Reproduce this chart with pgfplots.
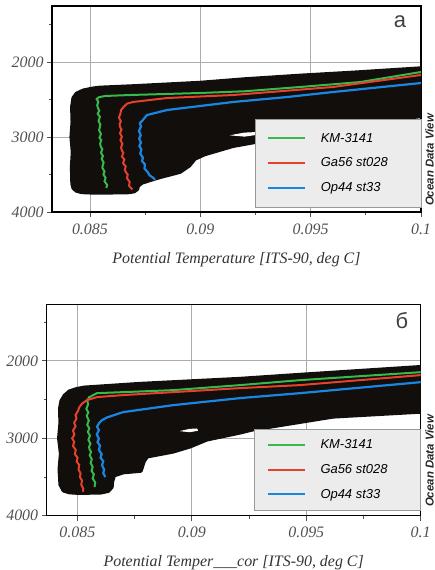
\documentclass[border=0pt]{standalone}
\usepackage{fontspec}
\setmainfont{Liberation Serif}
\newfontfamily\arialfont{Liberation Sans}
\usepackage{pgfplots}
\pgfplotsset{compat=1.18}
\definecolor{cgreen}{RGB}{55,185,75}
\definecolor{cred}{RGB}{230,65,45}
\definecolor{cblue}{RGB}{25,135,225}
\definecolor{cloud}{RGB}{17,14,12}
\definecolor{legfill}{RGB}{236,236,236}
\definecolor{tickgray}{RGB}{80,80,80}
\pgfplotsset{
  odvstyle/.style={
    scale only axis,
    y dir=reverse,
    xmax=0.1, ymax=4000,
    xtick={0.085,0.09,0.095,0.1},
    xticklabels={0.085,0.09,0.095,0.1},
    minor xtick={0.0875,0.0925,0.0975},
    ytick={2000,3000,4000},
    yticklabels={2000,3000,4000},
    minor ytick={1500,2500,3500},
    tick align=outside,
    xtick pos=left, ytick pos=left,
    major tick length=5bp, minor tick length=3bp,
    tick style={color=tickgray, line width=0.8bp},
    xmajorgrids, ymajorgrids,
    major grid style={color=gray!65, line width=0.8bp},
    axis line style={line width=1.3bp, black},
    ticklabel style={font=\fontsize{16}{18}\selectfont\itshape, text=tickgray},
    xticklabel style={yshift=-3bp},
    xlabel style={font=\fontsize{16}{18}\selectfont\itshape, text=black!80, yshift=-11bp},
    legend style={at={(1,0)}, anchor=south east, yshift=5bp, fill=legfill, draw=gray!80,
      font=\arialfont\itshape\fontsize{13}{15}\selectfont,
      inner xsep=12bp, inner ysep=12bp, row sep=10bp,
      /tikz/every odd column/.append style={column sep=13bp}},
    legend cell align=left,
    legend image code/.code={\draw[##1, line width=2bp] (0bp,0bp) -- (37bp,0bp);},
  }
}
\begin{document}
\begin{tikzpicture}
\path[use as bounding box] (0bp,0bp) rectangle (435bp,-570bp);
% ---------------- panel a
\begin{axis}[odvstyle, at={(52bp,-212bp)}, anchor=south west, width=369bp, height=206bp,
  xmin=0.08328, ymin=1253, xlabel={Potential Temperature [ITS-90, deg C]}]
\addplot[fill=cloud, draw=cloud, line width=4bp, line join=round, forget plot] coordinates {
(0.08420,3620) (0.08418,3400) (0.08422,3200) (0.08416,3000) (0.08421,2800) (0.08419,2600)
(0.08425,2480) (0.08440,2420) (0.08470,2380) (0.08510,2355) (0.08545,2342)
(0.08700,2322) (0.08998,2277) (0.09200,2230) (0.09452,2182) (0.09700,2140)
(0.1010,2065) (0.1010,2690) (0.09452,2900) (0.09270,3055) (0.09148,3120) (0.09020,3230)
(0.08975,3290) (0.08950,3380) (0.08908,3465) (0.08817,3535) (0.08772,3575) (0.08735,3610)
(0.08718,3650) (0.08714,3695) (0.08700,3725) (0.08670,3738) (0.08600,3740) (0.08500,3740)
(0.08462,3735) (0.08438,3715) (0.08425,3680)
} -- cycle;
\addplot[fill=white, draw=white, line width=1bp, forget plot] coordinates {
(0.09150,2975) (0.09200,2948) (0.09258,2940) (0.09262,2962) (0.09200,2988)
} -- cycle;
\addplot[cgreen, line width=2bp, forget plot] coordinates {
(0.1,2133) (0.09724,2267) (0.09452,2333) (0.09200,2390) (0.08998,2413) (0.08681,2440) (0.08568,2453)
(0.08540,2470) (0.08530,2495) (0.08538,2530) (0.08533,2575) (0.08536,2610) (0.08542,2650) (0.08535,2690)
(0.08545,2730) (0.08539,2790) (0.08547,2830) (0.08544,2880) (0.08541,2910) (0.08550,2960) (0.08543,3010)
(0.08551,3040) (0.08546,3090) (0.08549,3130) (0.08556,3160) (0.08550,3210) (0.08559,3255) (0.08553,3290)
(0.08562,3340) (0.08558,3380) (0.08556,3410) (0.08566,3460) (0.08561,3500) (0.08571,3545) (0.08566,3590)
(0.08578,3640) (0.08574,3680)
};
\addplot[cred, line width=2bp, forget plot] coordinates {
(0.1,2173) (0.09601,2333) (0.09148,2440) (0.08849,2480) (0.08695,2533) (0.08668,2555)
(0.08652,2600) (0.08641,2640) (0.08638,2690) (0.08631,2740) (0.08640,2790) (0.08634,2830)
(0.08637,2870) (0.08643,2900) (0.08636,2950) (0.08645,3000) (0.08638,3040) (0.08647,3090) (0.08641,3140)
(0.08645,3180) (0.08651,3210) (0.08645,3260) (0.08656,3300) (0.08650,3350) (0.08662,3390) (0.08658,3440)
(0.08663,3470) (0.08671,3500) (0.08668,3550) (0.08680,3600) (0.08677,3650) (0.08692,3700)
};
\addplot[cblue, line width=2.2bp, forget plot] coordinates {
(0.1,2280) (0.09601,2400) (0.09393,2467) (0.09148,2533) (0.08998,2587) (0.08849,2640)
(0.08758,2707) (0.08738,2780) (0.08726,2815) (0.08731,2860) (0.08722,2920) (0.08727,2950) (0.08730,2980)
(0.08723,3020) (0.08731,3075) (0.08724,3120) (0.08733,3165) (0.08728,3220) (0.08734,3250) (0.08740,3275)
(0.08736,3320) (0.08749,3365) (0.08747,3420) (0.08762,3470) (0.08770,3510) (0.08785,3540)
(0.08795,3570)
};
\addlegendimage{cgreen}
\addlegendentry{\makebox[86bp][l]{KM-3141}}
\addlegendimage{cred}
\addlegendentry{\makebox[86bp][l]{Ga56 st028}}
\addlegendimage{cblue}
\addlegendentry{\makebox[86bp][l]{Op44 st33}}
\end{axis}
% ---------------- panel b
\begin{axis}[odvstyle, at={(46.7bp,-515.7bp)}, anchor=south west, width=374bp, height=211.2bp,
  xmin=0.08366, ymin=1272, xlabel={Potential Temper\_\_\_cor [ITS-90, deg C]},
  legend style={inner ysep=9bp, row sep=10bp}]
\addplot[fill=cloud, draw=cloud, line width=4bp, line join=round, forget plot] coordinates {
(0.08426,3600) (0.08422,3400) (0.08428,3200) (0.08420,3000) (0.08426,2800) (0.08424,2620)
(0.08430,2520) (0.08444,2450) (0.08465,2395) (0.08495,2365) (0.08530,2345) (0.08774,2297)
(0.09211,2232) (0.09473,2180) (0.1010,2060) (0.1010,2640) (0.09617,2720) (0.09263,2888)
(0.09211,2926) (0.09066,3016) (0.08992,3106) (0.08918,3172) (0.08804,3236) (0.08790,3300)
(0.08777,3420) (0.08700,3440) (0.08660,3480) (0.08652,3560) (0.08650,3630) (0.08635,3680)
(0.08600,3702) (0.08500,3705) (0.08465,3698) (0.08440,3675)
} -- cycle;
\addplot[fill=white, draw=white, line width=1bp, forget plot] coordinates {
(0.08960,2905) (0.08990,2885) (0.09022,2880) (0.09024,2898) (0.08990,2915)
} -- cycle;
\addplot[cgreen, line width=2bp, forget plot] coordinates {
(0.1,2146) (0.09473,2249) (0.09211,2313) (0.08918,2378) (0.08700,2404) (0.08586,2417)
(0.08551,2470) (0.08543,2515) (0.08547,2560) (0.08539,2620) (0.08548,2665) (0.08541,2710)
(0.08546,2745) (0.08550,2770) (0.08543,2825) (0.08552,2870) (0.08546,2920) (0.08555,2965) (0.08548,3020)
(0.08557,3070) (0.08551,3115) (0.08554,3150) (0.08560,3175) (0.08554,3220) (0.08563,3270) (0.08558,3320)
(0.08567,3370) (0.08562,3420) (0.08572,3465) (0.08567,3520) (0.08578,3570) (0.08575,3630)
};
\addplot[cred, line width=2bp, forget plot] coordinates {
(0.1,2184) (0.09473,2313) (0.09211,2352) (0.08918,2404) (0.08700,2442) (0.08586,2468)
(0.08542,2507) (0.08521,2550) (0.08508,2600) (0.08503,2645) (0.08492,2700) (0.08496,2745)
(0.08486,2800) (0.08492,2845) (0.08481,2900) (0.08487,2955) (0.08477,3000) (0.08486,3045)
(0.08481,3100) (0.08493,3150) (0.08489,3205) (0.08501,3250) (0.08497,3300) (0.08508,3345)
(0.08505,3400) (0.08514,3455) (0.08511,3500) (0.08520,3545) (0.08517,3600) (0.08526,3650)
(0.08524,3690)
};
\addplot[cblue, line width=2.2bp, forget plot] coordinates {
(0.1,2275) (0.09473,2417) (0.09211,2481) (0.08918,2572) (0.08700,2662) (0.08630,2730)
(0.08608,2765) (0.08596,2800) (0.08586,2850) (0.08594,2895) (0.08585,2950) (0.08594,3005)
(0.08588,3050) (0.08599,3095) (0.08594,3150) (0.08606,3205) (0.08601,3250) (0.08613,3295)
(0.08608,3350) (0.08617,3405) (0.08613,3450) (0.08622,3500)
};
\addlegendimage{cgreen}
\addlegendentry{\makebox[86bp][l]{KM-3141}}
\addlegendimage{cred}
\addlegendentry{\makebox[86bp][l]{Ga56 st028}}
\addlegendimage{cblue}
\addlegendentry{\makebox[86bp][l]{Op44 st33}}
\end{axis}
% labels
\node[anchor=base, font=\arialfont\fontsize{22}{24}\selectfont, text=black!75] at (400bp,-27bp) {а};
\node[anchor=base, font=\arialfont\fontsize{22}{24}\selectfont, text=black!75] at (402bp,-328bp) {б};
\node[rotate=90, anchor=base, inner sep=0pt, font=\arialfont\bfseries\itshape\fontsize{11.5}{13}\selectfont, text=black!85] at (433.5bp,-160bp) {Ocean Data View};
\node[rotate=90, anchor=base, inner sep=0pt, font=\arialfont\bfseries\itshape\fontsize{11.5}{13}\selectfont, text=black!85] at (433.5bp,-461bp) {Ocean Data View};
\end{tikzpicture}
\end{document}
